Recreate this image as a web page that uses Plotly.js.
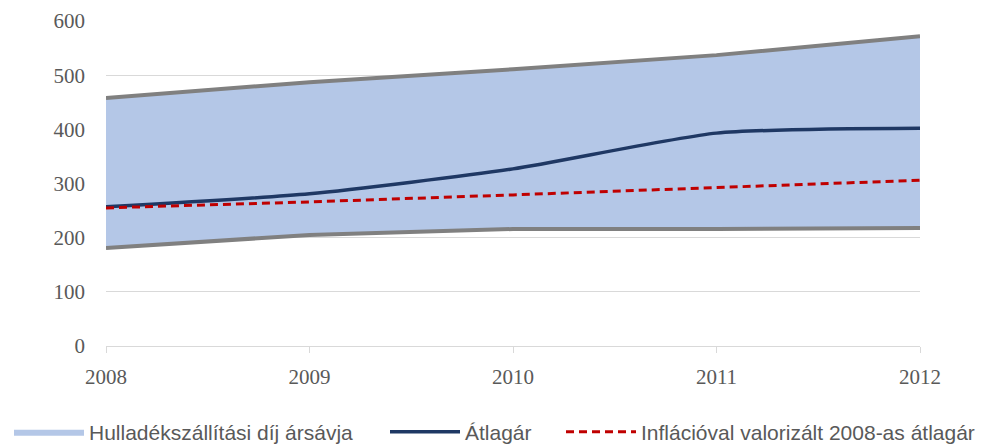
<!DOCTYPE html>
<html>
<head>
<meta charset="utf-8">
<script src="https://cdn.plot.ly/plotly-3.0.1.min.js"></script>
<style>html,body{margin:0;padding:0;background:#fff;}#chart{width:991px;height:444px;}</style>
</head>
<body>
<div id="chart"></div>
<script>
const years = [2008, 2009, 2010, 2011, 2012];
const bandUpper = [458, 487, 511, 537, 572];
const bandLower = [181, 205, 216, 216, 218];
const average = [257, 281, 327, 393, 402];
const inflationAdjusted = [255, 266, 279, 292, 306];
const yTicks = [0, 100, 200, 300, 400, 500, 600];
const names = ["Hulladékszállítási díj ársávja", "Átlagár", "Inflációval valorizált 2008-as átlagár"];

const traces = [
  {x: years, y: bandLower, mode: 'lines', line: {width: 0}, showlegend: false, hoverinfo: 'skip'},
  {x: years, y: bandUpper, mode: 'lines', line: {width: 0}, fill: 'tonexty', fillcolor: '#B4C7E7', name: names[0], legend: 'legend'},
  {x: years, y: bandUpper, mode: 'lines', line: {color: '#808080', width: 4}, showlegend: false},
  {x: years, y: bandLower, mode: 'lines', line: {color: '#808080', width: 4}, showlegend: false},
  {x: years, y: average, mode: 'lines', line: {color: '#1F3864', width: 3.5, shape: 'spline', smoothing: 0.6}, name: names[1], legend: 'legend2'},
  {x: years, y: inflationAdjusted, mode: 'lines', line: {color: '#C00000', width: 3, dash: '8px,5px'}, name: names[2], legend: 'legend3'}
];

const tickFont = {family: 'Liberation Sans, Arial, sans-serif', size: 21, color: '#595959'};
const serifFont = {family: 'Liberation Serif, Times New Roman, serif', size: 21, color: '#595959'};
function leg(px) {
  return {orientation: 'h', x: px / 991, xanchor: 'left', xref: 'container',
          y: 0.027, yanchor: 'middle', yref: 'container', bgcolor: 'rgba(0,0,0,0)',
          font: tickFont, itemwidth: 70};
}

const layout = {
  width: 991, height: 444,
  margin: {l: 106, r: 71, t: 21, b: 98},
  paper_bgcolor: '#fff', plot_bgcolor: '#fff',
  showlegend: true,
  legend: leg(9), legend2: leg(385), legend3: leg(561),
  xaxis: {range: [2008, 2012], tickvals: years, ticktext: years.map(String),
          showgrid: false, zeroline: false, showline: false,
          ticks: 'outside', ticklen: 6, tickcolor: '#d9d9d9',
          ticklabelstandoff: 6, tickfont: serifFont},
  yaxis: {range: [0, 600], tickvals: yTicks, showgrid: true, gridcolor: '#d9d9d9', gridwidth: 1,
          zeroline: true, zerolinecolor: '#d9d9d9', zerolinewidth: 1, showline: false,
          ticks: '', ticklabelstandoff: 20, tickfont: serifFont}
};

Plotly.newPlot('chart', traces, layout, {displayModeBar: false, staticPlot: true});
</script>
</body>
</html>
